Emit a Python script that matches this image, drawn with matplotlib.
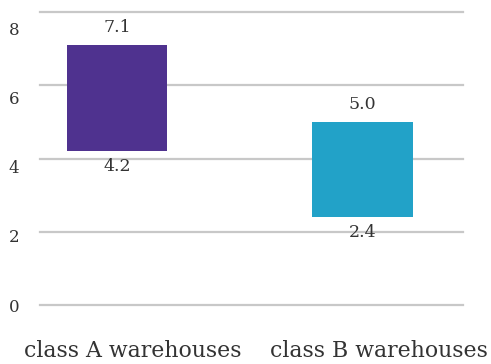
import matplotlib
matplotlib.use("Agg")
import matplotlib.pyplot as plt
import matplotlib.transforms as mtransforms

# warehouse groups and their low / high values
categories = ["class A warehouses", "class B warehouses"]
low_values = [4.2, 2.4]
high_values = [7.1, 5.0]
bar_colors = ["#4f328f", "#22a2c8"]
y_ticks = [0, 2, 4, 6, 8]

plt.rcParams["font.family"] = ["DejaVu Serif"]
text_color = "#333333"

fig = plt.figure(figsize=(4.91, 3.64), dpi=100)
ax = fig.add_axes([40 / 491, 59 / 364, 423 / 491, 293 / 364])

x = list(range(len(categories)))
heights = [h - l for l, h in zip(low_values, high_values)]
ax.bar(x, heights, bottom=low_values, width=0.41, color=bar_colors, zorder=3)

# value labels above the top and below the bottom of each bar
for xi, lo, hi in zip(x, low_values, high_values):
    ax.annotate(f"{hi:.1f}", (xi, hi), xytext=(0, 12.5), textcoords="offset points",
                ha="center", va="center", fontsize=12.5, color=text_color, zorder=4)
    ax.annotate(f"{lo:.1f}", (xi, lo), xytext=(0, -11), textcoords="offset points",
                ha="center", va="center", fontsize=12.5, color=text_color, zorder=4)

# horizontal grid lines
for v in y_ticks:
    ax.axhline(v, color="#c8c8c8", linewidth=1.6, zorder=1, clip_on=False)

ax.set_xlim(-0.314, 1.409)
ax.set_ylim(0, 8)

# y labels sit on a slightly compressed scale
ax.set_yticks([v * 0.945 for v in y_ticks])
ax.set_yticklabels([str(v) for v in y_ticks])
ax.tick_params(axis="y", length=0, pad=15, labelsize=12, labelcolor=text_color)

ax.set_xticks(x)
ax.set_xticklabels(categories)
ax.tick_params(axis="x", length=0, pad=25.5, labelsize=15.8, labelcolor=text_color)
shift = mtransforms.ScaledTranslation(16 / 100, 0, fig.dpi_scale_trans)
for lbl in ax.get_xticklabels():
    lbl.set_transform(lbl.get_transform() + shift)

for s in ax.spines.values():
    s.set_visible(False)

fig.savefig("out.png", dpi=100)
